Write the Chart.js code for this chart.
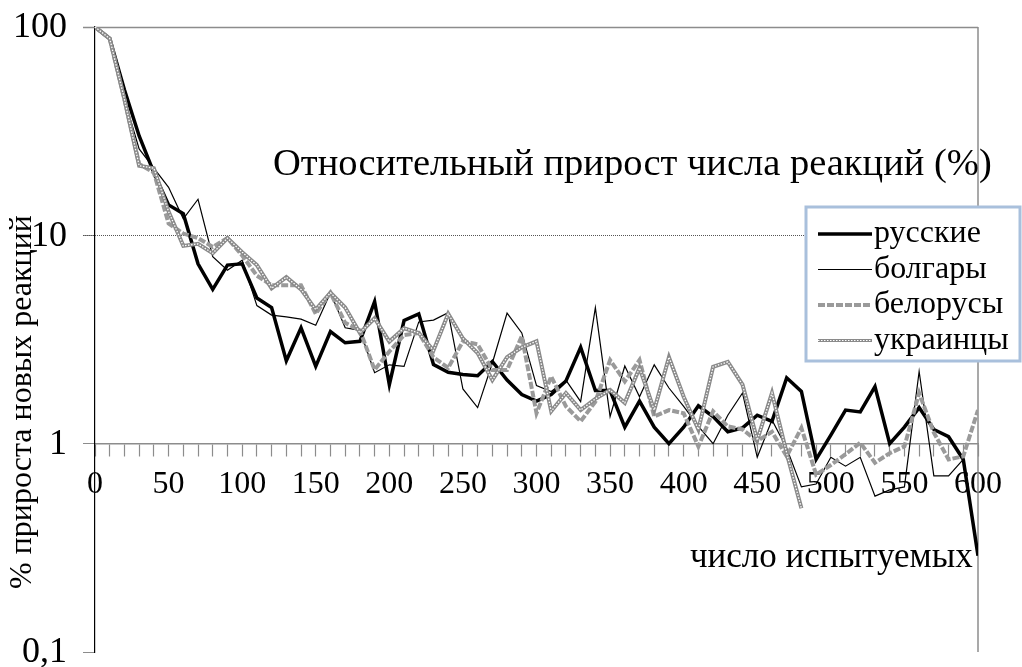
<!DOCTYPE html>
<html>
<head>
<meta charset="utf-8">
<script src="https://cdn.jsdelivr.net/npm/chart.js@4.4.0/dist/chart.umd.min.js"></script>
<style>
  html, body { margin: 0; padding: 0; background: #fff; }
  #wrap { width: 1022px; height: 667px; }
</style>
</head>
<body>
<div id="wrap"><canvas id="chart"></canvas></div>
<script>
// число испытуемых (ось X)
const xValues = [0, 10, 20, 30, 40, 50, 60, 70, 80, 90, 100,
  110, 120, 130, 140, 150, 160, 170, 180, 190, 200,
  210, 220, 230, 240, 250, 260, 270, 280, 290, 300,
  310, 320, 330, 340, 350, 360, 370, 380, 390, 400,
  410, 420, 430, 440, 450, 460, 470, 480, 490, 500,
  510, 520, 530, 540, 550, 560, 570, 580, 590, 600];

const yTicks = [0.1, 1, 10, 100];
const yTickLabels = ['0,1', '1', '10', '100'];

const seriesNames = ['русские', 'болгары', 'белорусы', 'украинцы'];

const russ = [100, 88, 50, 30, 20, 14, 12.7, 7.3, 5.5, 7.2, 7.3,
  5.0, 4.5, 2.5, 3.6, 2.35, 3.45, 3.05, 3.1, 4.8, 1.92,
  3.9, 4.2, 2.4, 2.2, 2.15, 2.12, 2.48, 2.02, 1.72, 1.6,
  1.72, 2.0, 2.9, 1.8, 1.8, 1.2, 1.6, 1.2, 1.0, 1.2,
  1.52, 1.35, 1.14, 1.19, 1.37, 1.28, 2.07, 1.78, 0.84, 1.1,
  1.45, 1.42, 1.88, 1.0, 1.2, 1.49, 1.17, 1.08, 0.84, 0.29];

const bulg = [100, 88, 45, 26, 21, 17, 12, 14.9, 7.9, 6.8, 7.6,
  4.6, 4.14, 4.06, 3.96, 3.7, 5.3, 3.6, 3.5, 2.19, 2.39,
  2.35, 3.84, 3.92, 4.25, 1.83, 1.49, 2.44, 4.23, 3.4, 1.9,
  1.78, 2.02, 1.59, 4.5, 1.35, 2.36, 1.68, 2.39, 1.85, 1.51,
  1.21, 1.0, 1.37, 1.75, 0.86, 1.3, 0.95, 0.62, 0.64, 0.86,
  0.78, 0.86, 0.56, 0.6, 0.62, 2.22, 0.7, 0.7, 0.84, null];

const belar = [100, 88, 45, 22, 20, 11.4, 10.2, 9.7, 8.8, 9.7, 8.0,
  6.4, 5.76, 5.76, 5.76, 4.2, 5.3, 3.8, 3.5, 2.26, 2.77,
  3.32, 3.4, 2.6, 2.31, 3.1, 3.0, 2.26, 2.26, 3.28, 1.4,
  2.1, 1.51, 1.28, 1.59, 2.52, 1.99, 2.52, 1.35, 1.45, 1.4,
  0.97, 1.43, 1.21, 1.17, 1.03, 1.14, 0.87, 1.19, 0.71, 0.79,
  0.89, 1.01, 0.81, 0.9, 0.97, 1.75, 1.13, 0.84, 0.87, 1.45];

const ukr = [100, 88, 45, 21.6, 21, 13, 8.9, 9.1, 8.2, 9.7, 8.3,
  7.2, 5.57, 6.3, 5.5, 4.4, 5.3, 4.5, 3.4, 4.0, 3.09,
  3.58, 3.4, 2.8, 4.2, 3.2, 2.72, 2.02, 2.6, 2.9, 3.1,
  1.43, 1.75, 1.45, 1.64, 1.81, 1.57, 2.31, 1.45, 2.6, 1.68,
  1.17, 2.34, 2.47, 1.92, 1.04, 1.75, 0.9, 0.49];

const FONT = '"Liberation Serif", "Times New Roman", serif';

function toPoints(values) {
  return values.map((v, i) => ({ x: xValues[i], y: v }));
}

const styles = [
  { color: '#000', width: 3.5, dash: [] },
  { color: '#000', width: 1.2, dash: [] },
  { color: '#9a9a9a', width: 4, dash: [7, 2] },
  { color: '#8a8a8a', width: 4, dash: [] }
];

function strokeSample(ctx, i, x1, x2, y) {
  const s = styles[i];
  ctx.beginPath();
  ctx.setLineDash(s.dash);
  ctx.strokeStyle = s.color;
  ctx.lineWidth = i === 3 ? 3 : s.width;
  ctx.moveTo(x1, y); ctx.lineTo(x2, y);
  ctx.stroke();
  if (i === 3) {
    ctx.beginPath();
    ctx.setLineDash([1.5, 1.5]);
    ctx.strokeStyle = '#fff';
    ctx.lineWidth = 1;
    ctx.moveTo(x1, y); ctx.lineTo(x2, y);
    ctx.stroke();
  }
  ctx.setLineDash([]);
}

const decor = {
  id: 'decor',
  beforeDatasetsDraw(chart) {
    const { ctx, chartArea: a, scales: { y } } = chart;
    ctx.save();
    // линия 100
    let py = Math.round(y.getPixelForValue(100)) + 0.5;
    ctx.strokeStyle = '#8c8c8c';
    ctx.lineWidth = 1.5;
    ctx.beginPath(); ctx.moveTo(a.left - 12, py); ctx.lineTo(a.right, py); ctx.stroke();
    // линия 10, пунктир
    py = Math.round(y.getPixelForValue(10)) + 0.5;
    ctx.strokeStyle = '#555';
    ctx.lineWidth = 1;
    ctx.setLineDash([1, 1]);
    ctx.beginPath(); ctx.moveTo(a.left - 12, py); ctx.lineTo(a.right, py); ctx.stroke();
    ctx.setLineDash([]);
    // правая граница
    ctx.strokeStyle = '#8c8c8c';
    ctx.lineWidth = 1.5;
    ctx.beginPath(); ctx.moveTo(a.right, a.top); ctx.lineTo(a.right, a.bottom); ctx.stroke();

    // подписи оси Y
    ctx.fillStyle = '#000';
    ctx.font = '36px ' + FONT;
    ctx.textAlign = 'right';
    ctx.textBaseline = 'middle';
    yTicks.forEach((v, i) => ctx.fillText(yTickLabels[i], 67, y.getPixelForValue(v) + 1));
    ctx.restore();
  },
  afterDraw(chart) {
    const { ctx } = chart;
    ctx.save();
    ctx.fillStyle = '#000';
    ctx.textBaseline = 'middle';

    ctx.font = '38.5px ' + FONT;
    ctx.textAlign = 'left';
    ctx.fillText('Относительный прирост числа реакций (%)', 273, 165);

    ctx.font = '35px ' + FONT;
    ctx.fillText('число испытуемых', 690, 558);

    ctx.save();
    ctx.font = '32px ' + FONT;
    ctx.translate(23, 402);
    ctx.rotate(-Math.PI / 2);
    ctx.textAlign = 'center';
    ctx.fillText('% прироста новых реакций', 0, 0);
    ctx.restore();

    // легенда
    const bx = 806, by = 207, bw = 214, bh = 154;
    ctx.fillStyle = '#fff';
    ctx.fillRect(bx, by, bw, bh);
    ctx.strokeStyle = '#a9c0dc';
    ctx.lineWidth = 3;
    ctx.strokeRect(bx, by, bw, bh);
    ctx.font = '32px ' + FONT;
    ctx.fillStyle = '#000';
    ctx.textAlign = 'left';
    seriesNames.forEach((name, i) => {
      const ly = by + 27 + i * 35.5;
      strokeSample(ctx, i, 818, 872, ly);
      ctx.fillText(name, 874, ly);
    });
    ctx.restore();
  }
};

new Chart(document.getElementById('chart'), {
  type: 'line',
  data: {
    datasets: [
      { label: seriesNames[0], data: toPoints(russ), borderColor: styles[0].color, borderWidth: styles[0].width, order: 4 },
      { label: seriesNames[1], data: toPoints(bulg), borderColor: styles[1].color, borderWidth: styles[1].width, order: 3 },
      { label: seriesNames[2], data: toPoints(belar), borderColor: styles[2].color, borderWidth: styles[2].width, borderDash: styles[2].dash, order: 2 },
      { label: seriesNames[3], data: toPoints(ukr), borderColor: styles[3].color, borderWidth: styles[3].width, order: 1 },
      { label: '', data: toPoints(ukr), borderColor: '#fff', borderWidth: 1.3, borderDash: [1.5, 1.5], order: 0 }
    ]
  },
  options: {
    responsive: true,
    maintainAspectRatio: false,
    animation: false,
    layout: { padding: { left: 0, right: 44, top: 27, bottom: 15 } },
    elements: {
      point: { radius: 0 },
      line: { tension: 0, fill: false, borderCapStyle: 'butt', borderJoinStyle: 'miter' }
    },
    plugins: {
      legend: { display: false },
      tooltip: { enabled: false }
    },
    scales: {
      x: {
        type: 'linear',
        min: 0,
        max: 600,
        position: { y: 1 },
        border: { color: '#8c8c8c', width: 1.5 },
        grid: { drawOnChartArea: false, tickLength: 12, tickColor: '#8c8c8c', tickWidth: 1.2 },
        ticks: {
          stepSize: 10,
          autoSkip: false,
          maxRotation: 0,
          padding: 10,
          color: '#000',
          font: { family: FONT, size: 32 },
          callback: (v) => (v % 50 === 0 ? String(v) : '')
        }
      },
      y: {
        type: 'logarithmic',
        min: 0.1,
        max: 100,
        afterBuildTicks: (s) => { s.ticks = yTicks.map((v) => ({ value: v })); },
        afterFit: (s) => { s.width = 95; },
        border: { color: '#000', width: 1.2 },
        grid: { drawOnChartArea: false, tickLength: 12, tickColor: '#8c8c8c' },
        ticks: { display: false }
      }
    }
  },
  plugins: [decor]
});
</script>
</body>
</html>
